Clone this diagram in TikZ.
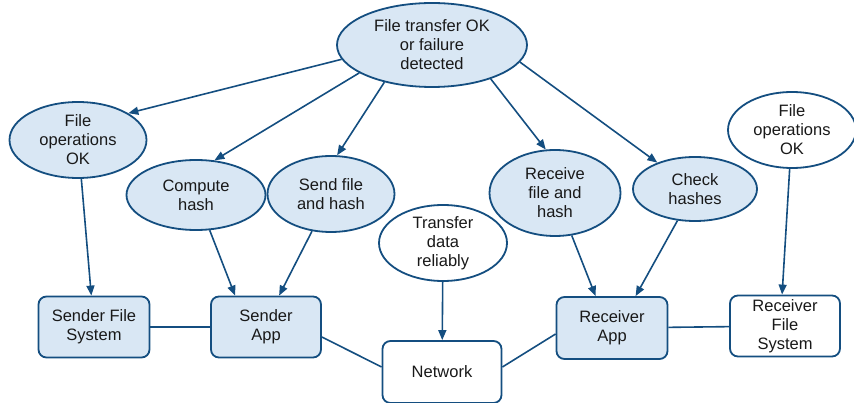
\documentclass[tikz,border=0pt]{standalone}
\usepackage{fontspec}
\setmainfont{Liberation Sans}
\usetikzlibrary{shapes.geometric,arrows.meta}
\definecolor{edgeblue}{RGB}{20,78,128}
\definecolor{paleblue}{RGB}{217,231,244}
\definecolor{inkgrey}{RGB}{25,25,25}
\begin{document}
\begin{tikzpicture}[x=1pt,y=-1pt,
  every node/.style={font=\fontsize{16.5}{19}\selectfont, text=inkgrey, align=center,
                     inner sep=0pt, line width=1.8pt, draw=edgeblue},
  goal/.style={ellipse, fill=paleblue},
  goalw/.style={ellipse, fill=white},
  part/.style={rectangle, rounded corners=8pt, fill=paleblue},
  partw/.style={rectangle, rounded corners=8pt, fill=white},
  link/.style={draw=edgeblue, line width=1.6pt},
  arr/.style={link, -{Triangle[length=10pt,width=8pt]}}]
\useasboundingbox (0,0) rectangle (854,403);

% goals
\node[goal, minimum width=190pt, minimum height=84pt] (top) at (432,45) {File transfer OK\\or failure\\detected};
\node[goal, minimum width=137pt, minimum height=76pt] (fol) at (78,140) {File\\operations\\OK};
\node[goal, minimum width=139pt, minimum height=70pt] (cmp) at (196,195) {Compute\\hash};
\node[goal, minimum width=127pt, minimum height=76pt] (snd) at (331,194) {Send file\\and hash};
\node[goalw, minimum width=128pt, minimum height=76pt] (xfr) at (443,243) {Transfer\\data\\reliably};
\node[goal, minimum width=131pt, minimum height=86pt] (rcv) at (555,193) {Receive\\file and\\hash};
\node[goal, minimum width=124pt, minimum height=64pt] (chk) at (695,189) {Check\\hashes};
\node[goalw, minimum width=128pt, minimum height=76pt] (for) at (792,130) {File\\operations\\OK};

% components
\node[part, minimum width=111pt, minimum height=61pt] (sfs) at (94,327) {Sender File\\System};
\node[part, minimum width=110pt, minimum height=61pt] (sapp) at (266,327) {Sender\\App};
\node[partw, minimum width=119pt, minimum height=62pt] (net) at (442,372) {Network};
\node[part, minimum width=111pt, minimum height=62pt] (rapp) at (612,328) {Receiver\\App};
\node[partw, minimum width=110pt, minimum height=61pt] (rfs) at (785,326) {Receiver\\File\\System};

% refinement arrows
\draw[arr] (top.189) -- (fol.28);
\draw[arr] (top.201) -- (cmp.62);
\draw[arr] (top.218) -- (snd.81);
\draw[arr] (top.330) -- (rcv.102);
\draw[arr] (top.349) -- (chk.145);
\draw[arr] (fol) -- (sfs);
\draw[arr] (cmp) -- ([xshift=25pt]sapp.north west);
\draw[arr] (snd) -- ([xshift=69pt]sapp.north west);
\draw[arr] (xfr) -- (net);
\draw[arr] (rcv) -- ([xshift=40pt]rapp.north west);
\draw[arr] (chk) -- ([xshift=80pt]rapp.north west);
\draw[arr] (for) -- ([xshift=53pt]rfs.north west);

% plain links
\draw[link] (sfs) -- (sapp);
\draw[link] ([yshift=-10pt]sapp.east) -- ([yshift=5pt]net.west);
\draw[link] ([yshift=5pt]net.east) -- ([yshift=-6pt]rapp.west);
\draw[link] (rapp) -- (rfs);
\end{tikzpicture}
\end{document}
